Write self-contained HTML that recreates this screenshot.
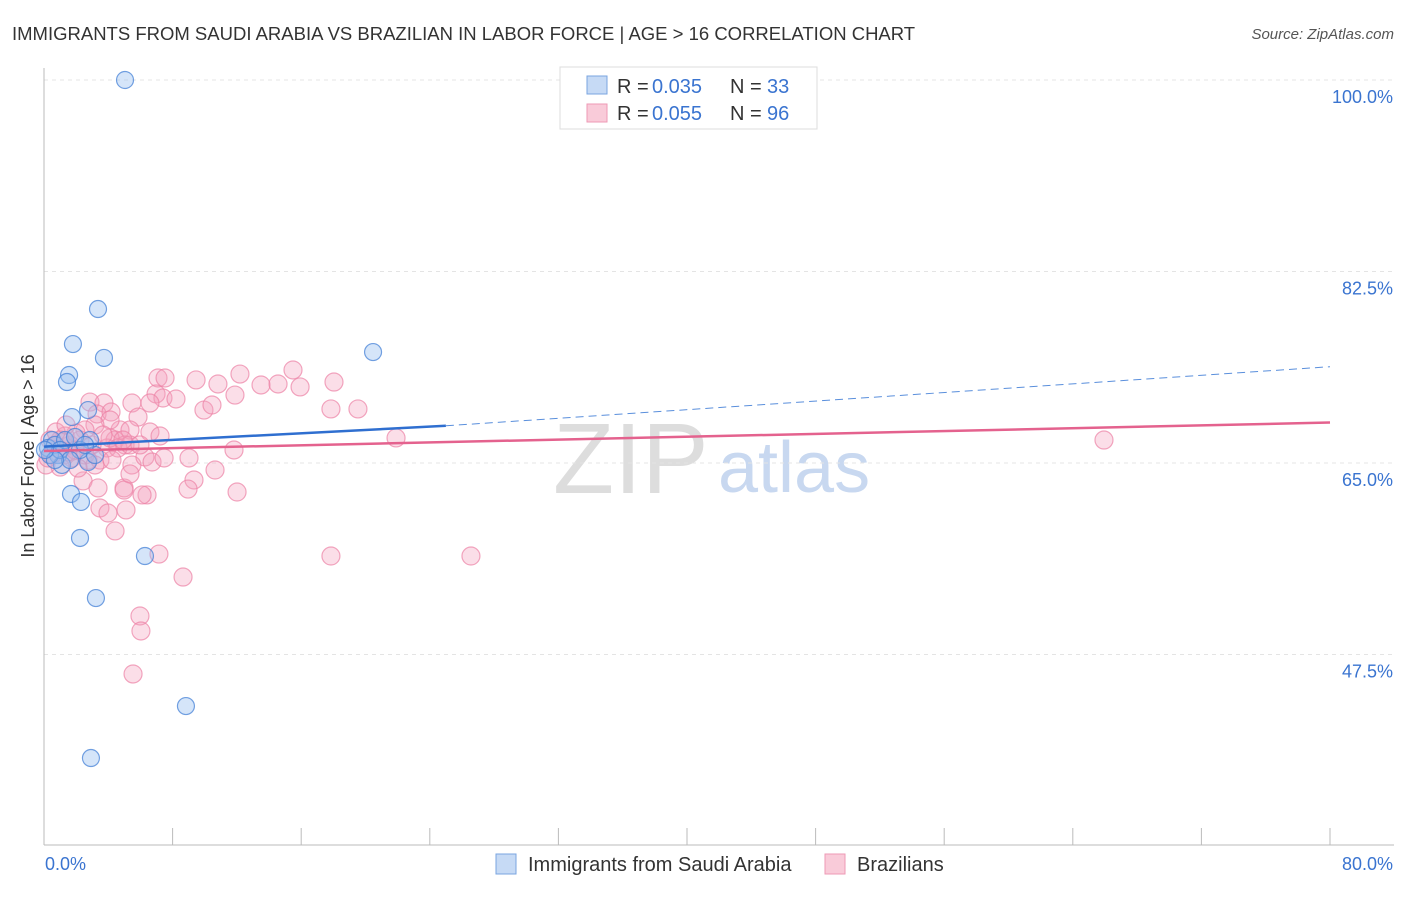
<!DOCTYPE html>
<html><head><meta charset="utf-8"><style>
body{margin:0;background:#fff;font-family:"Liberation Sans",sans-serif}
svg text{font-family:"Liberation Sans",sans-serif}
</style></head><body>
<svg width="1406" height="892">
<text x="12" y="40" font-size="18.5" fill="#333">IMMIGRANTS FROM SAUDI ARABIA VS BRAZILIAN IN LABOR FORCE | AGE &gt; 16 CORRELATION CHART</text>
<text x="1394" y="39" font-size="15" fill="#555" font-style="italic" text-anchor="end">Source: ZipAtlas.com</text>
<g><text x="553" y="493" font-size="100" font-family="Liberation Serif,serif" fill="#ddd">ZIP</text><text x="718" y="492" font-size="72" fill="#c8d8f0">atlas</text></g>
<g id="grid"></g>
<line x1="44" y1="68" x2="44" y2="845" stroke="#bbb"/>
<line x1="44" y1="845" x2="1394" y2="845" stroke="#bbb"/>
<text transform="translate(34,456) rotate(-90)" font-size="18" fill="#333" text-anchor="middle">In Labor Force | Age &gt; 16</text>
<text x="45" y="870" font-size="18" fill="#3a74d0">0.0%</text>
<text x="1393" y="870" font-size="18" fill="#3a74d0" text-anchor="end">80.0%</text>
<g id="pts"></g>
<g id="trends"></g>
<g>
<rect x="560" y="67" width="257" height="62" fill="#fff" stroke="#ddd"/>
<rect x="587" y="76" width="20" height="18" fill="#c6daf5" stroke="#7aa4e0"/>
<rect x="587" y="104" width="20" height="18" fill="#f9cbd9" stroke="#ee9ab5"/>
<text x="617" y="93" font-size="20" fill="#333">R = <tspan x="652" fill="#3a74d0">0.035</tspan><tspan x="730">N = </tspan><tspan x="767" fill="#3a74d0">33</tspan></text>
<text x="617" y="120" font-size="20" fill="#333">R = <tspan x="652" fill="#3a74d0">0.055</tspan><tspan x="730">N = </tspan><tspan x="767" fill="#3a74d0">96</tspan></text>
</g>
<g>
<rect x="496" y="854" width="20" height="20" fill="#c6daf5" stroke="#7aa4e0"/>
<text x="528" y="871" font-size="20" fill="#333">Immigrants from Saudi Arabia</text>
<rect x="825" y="854" width="20" height="20" fill="#f9cbd9" stroke="#ee9ab5"/>
<text x="857" y="871" font-size="20" fill="#333">Brazilians</text>
</g>
</svg>
<script>
const yTicks=[100,82.5,65,47.5];
const yTickLabels=["100.0%","82.5%","65.0%","47.5%"];
const xTicks=[0,8,16,24,32,40,48,56,64,72,80];
const bluePx=[[125,80],[98,309],[73,344],[104,358],[373,352],[69,375],[67,382],[72,417],[88,410],[52,440],[48,448],[58,455],[90,440],[62,465],[88,462],[71,494],[81,502],[80,538],[145,556],[96,598],[186,706],[91,758],[55,445],[65,440],[75,437],[50,455],[60,450],[80,450],[95,455],[70,460],[85,445],[55,460],[45,450]];
const pinkPx=[[158,378],[165,378],[196,380],[218,384],[240,374],[261,385],[278,384],[293,370],[300,387],[334,382],[156,394],[163,398],[176,399],[204,410],[212,405],[235,395],[331,409],[358,409],[90,402],[104,403],[132,403],[138,417],[150,403],[97,414],[111,412],[150,432],[160,436],[120,430],[130,430],[115,440],[125,445],[107,448],[100,460],[88,460],[110,420],[95,425],[85,430],[80,440],[70,445],[76,433],[65,436],[60,440],[55,445],[64,455],[72,458],[60,467],[83,481],[98,488],[124,488],[132,465],[145,457],[152,462],[164,458],[189,458],[194,480],[215,470],[234,450],[188,489],[147,495],[142,495],[124,490],[100,508],[108,513],[126,510],[115,531],[130,474],[396,438],[1104,440],[331,556],[471,556],[159,554],[183,577],[140,616],[141,631],[133,674],[237,492],[46,465],[50,440],[56,432],[66,425],[75,450],[85,455],[92,445],[110,438],[118,448],[130,445],[95,465],[60,450],[68,452],[52,455],[48,458],[103,435],[123,440],[140,445],[112,460],[78,468]];
const toData=p=>[+((p[0]-44)/1286*80).toFixed(2),+(100-(p[1]-80)/10.943).toFixed(2)];
const blueX=bluePx.map(p=>toData(p)[0]), blueY=bluePx.map(p=>toData(p)[1]);
const pinkX=pinkPx.map(p=>toData(p)[0]), pinkY=pinkPx.map(p=>toData(p)[1]);
const blueTrend=[[0,66.5],[25,68.4],[80,73.8]];
const pinkTrend=[[0,66.1],[80,68.7]];
const sx=v=>44+v/80*1286, sy=v=>80+(100-v)*10.943;
const NS="http://www.w3.org/2000/svg";
const mk=(t,a,par)=>{const e=document.createElementNS(NS,t);for(const k in a)e.setAttribute(k,a[k]);document.getElementById(par).appendChild(e);return e;};
yTicks.forEach((v,i)=>{
 const l=mk('line',{x1:44,x2:1394,y1:sy(v),y2:sy(v),stroke:'#e4e4e4','stroke-dasharray':'4,4'},'grid');
 
 
 const t=mk('text',{x:1393,y:sy(v)+23,'font-size':18,fill:'#3a74d0','text-anchor':'end'},'grid');
 t.textContent=yTickLabels[i];
 
 
});
xTicks.forEach(v=>{
 const l=mk('line',{x1:sx(v),x2:sx(v),y1:828,y2:845,stroke:'#bbb'},'grid');
 
 
});
pinkX.forEach((x,i)=>{
 const c=mk('circle',{cx:sx(x),cy:sy(pinkY[i]),r:9,fill:'rgba(244,160,188,0.35)',stroke:'rgba(236,130,165,0.7)','stroke-width':1.2},'pts');
 
 
});
blueX.forEach((x,i)=>{
 const c=mk('circle',{cx:sx(x),cy:sy(blueY[i]),r:8.5,fill:'rgba(150,190,240,0.4)',stroke:'rgba(70,130,215,0.75)','stroke-width':1.2},'pts');
 
 
});
let b1=mk('line',{x1:sx(blueTrend[0][0]),y1:sy(blueTrend[0][1]),x2:sx(blueTrend[1][0]),y2:sy(blueTrend[1][1]),stroke:'#2f6fd0','stroke-width':2.5},'trends');


let b2=mk('line',{x1:sx(blueTrend[1][0]),y1:sy(blueTrend[1][1]),x2:sx(blueTrend[2][0]),y2:sy(blueTrend[2][1]),stroke:'#5a8fdc','stroke-width':1,'stroke-dasharray':'8,5'},'trends');


let p1=mk('line',{x1:sx(pinkTrend[0][0]),y1:sy(pinkTrend[0][1]),x2:sx(pinkTrend[1][0]),y2:sy(pinkTrend[1][1]),stroke:'#e4628e','stroke-width':2.5},'trends');


</script>
</body></html>
